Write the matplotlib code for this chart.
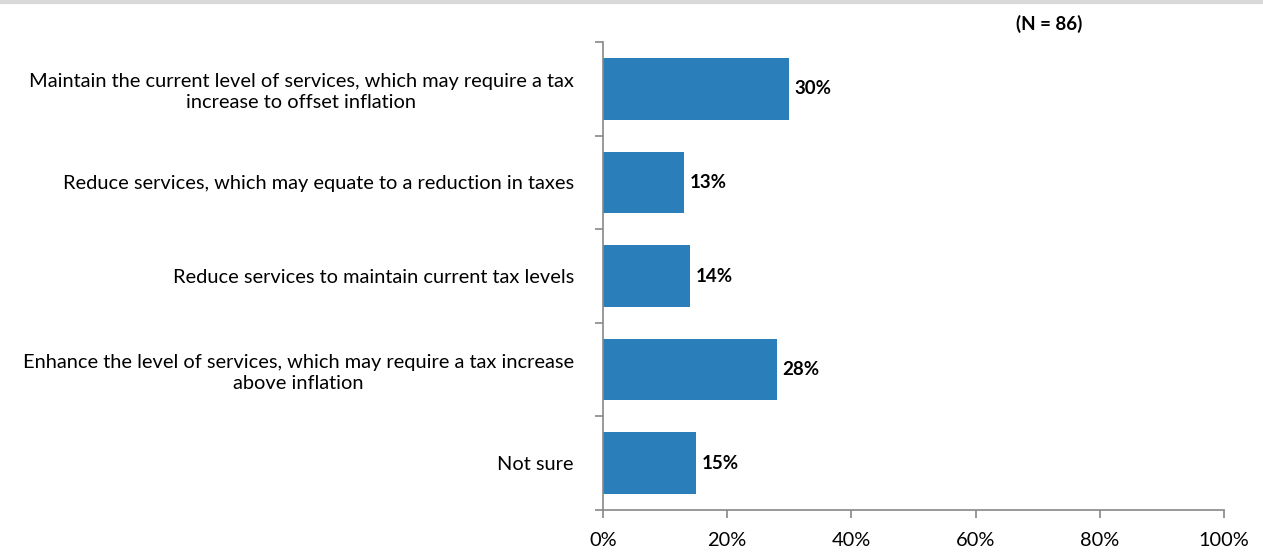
import numpy as np
import matplotlib.pyplot as plt
from matplotlib.ticker import FixedLocator, PercentFormatter

categories = [
    "Maintain the current level of services, which may require a tax\nincrease to offset inflation",
    "Reduce services, which may equate to a reduction in taxes",
    "Reduce services to maintain current tax levels",
    "Enhance the level of services, which may require a tax increase\nabove inflation",
    "Not sure",
]
values = [30, 13, 14, 28, 15]
x_ticks = [0, 20, 40, 60, 80, 100]
note = "(N = 86)"

plt.rcParams['font.family'] = ['Lato', 'DejaVu Sans']

fig = plt.figure(figsize=(12.63, 5.52), dpi=100)
ax = fig.add_axes([603 / 1263, 1 - 510 / 552, 621 / 1263, 468 / 552])

y = np.arange(len(categories))
ax.barh(y, values, height=0.66, color='#2a7fba')
ax.set_xlim(0, 100)
ax.set_ylim(len(categories) - 0.5, -0.5)

for yi, v in zip(y, values):
    ax.text(v + 0.9, yi, f"{v}%", va='center', ha='left', fontsize=13.5, fontweight='bold')

ax.set_yticks(y)
ax.set_yticklabels(categories, multialignment='center', fontsize=14.4, linespacing=1.3)
ax.yaxis.set_minor_locator(FixedLocator(np.arange(-0.5, len(categories), 1)))
ax.tick_params(axis='y', which='major', length=0, pad=21)
ax.tick_params(axis='y', which='minor', length=6, color='#888888', width=1.2, direction='out')

ax.set_xticks(x_ticks)
ax.xaxis.set_major_formatter(PercentFormatter(decimals=0))
ax.tick_params(axis='x', length=6, color='#888888', width=1.2, labelsize=14.4, pad=10)

for side in ['top', 'right']:
    ax.spines[side].set_visible(False)
for side in ['left', 'bottom']:
    ax.spines[side].set_color('#888888')
    ax.spines[side].set_linewidth(1.2)

fig.text(1082 / 1263, 1 - 24 / 552, note, ha='right', va='center', fontsize=13.5, fontweight='bold')
fig.add_artist(plt.Line2D([0, 1], [0.997, 0.997], color='#d9d9d9', linewidth=3, transform=fig.transFigure))

fig.savefig('out.png', dpi=100)
